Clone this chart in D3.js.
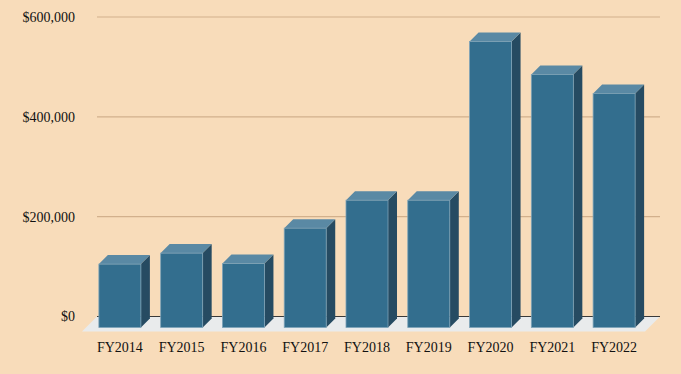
<!DOCTYPE html>
<html>
<head>
<meta charset="UTF-8">
<title>Funding by year</title>
<script src="https://cdn.jsdelivr.net/npm/d3@7"></script>
<style>
  body { margin: 0; background: #f8dcba; }
  svg { display: block; }
  text { font-family: "Liberation Serif", "Times New Roman", serif; fill: #111; }
</style>
</head>
<body>
<div id="chart"></div>
<script>
var years = ["FY2014", "FY2015", "FY2016", "FY2017", "FY2018", "FY2019", "FY2020", "FY2021", "FY2022"];
var amounts = [127000, 149000, 128000, 199000, 255000, 255000, 573000, 507000, 469000];
var yTicks = [0, 200000, 400000, 600000];

var width = 681, height = 374;
var depth = 9;      // bar depth offset (x right, y up)
var frontOff = 11;  // front face sits below the back wall

var svg = d3.select("#chart").append("svg")
    .attr("width", width)
    .attr("height", height);

svg.append("rect")
    .attr("width", width).attr("height", height)
    .attr("fill", "#f8dcba");

var x = d3.scaleBand()
    .domain(years)
    .range([89, 645])
    .paddingInner(0.32)
    .paddingOuter(0.16);

var y = d3.scaleLinear()
    .domain([0, 600000])
    .range([316.5, 17]);

// gridlines on back wall
svg.append("g")
    .selectAll("line")
    .data(yTicks.filter(function(d) { return d > 0; }))
    .enter().append("line")
    .attr("x1", 97).attr("x2", 660)
    .attr("y1", function(d) { return y(d); })
    .attr("y2", function(d) { return y(d); })
    .attr("stroke", "#d2b08c")
    .attr("stroke-width", 1.2);

// floor
var fy0 = y(0);
svg.append("path")
    .attr("d", "M97," + fy0 + "L660," + fy0 + "L645," + (fy0 + 15) + "L82," + (fy0 + 15) + "Z")
    .attr("fill", "#e9ebec");

svg.append("line")
    .attr("x1", 97).attr("x2", 660)
    .attr("y1", fy0).attr("y2", fy0)
    .attr("stroke", "#3a3a3a")
    .attr("stroke-width", 1.2);

// y labels
svg.append("g")
    .selectAll("text")
    .data(yTicks)
    .enter().append("text")
    .attr("x", 75)
    .attr("y", function(d) { return y(d); })
    .attr("dy", "0.35em")
    .attr("text-anchor", "end")
    .style("font-size", "14px")
    .text(function(d) { return "$" + d3.format(",")(d); });

// bars
var bars = svg.append("g")
    .selectAll("g")
    .data(years.map(function(yr, i) { return { year: yr, value: amounts[i] }; }))
    .enter().append("g");

bars.each(function(d) {
    var g = d3.select(this);
    var x0 = x(d.year), w = x.bandwidth();
    var top = y(d.value) + frontOff, bot = y(0) + frontOff;
    // right side
    g.append("path")
        .attr("d", "M" + (x0 + w) + "," + top + "L" + (x0 + w + depth) + "," + (top - depth) +
            "L" + (x0 + w + depth) + "," + (bot - depth) + "L" + (x0 + w) + "," + bot + "Z")
        .attr("fill", "#264b62");
    // top
    g.append("path")
        .attr("d", "M" + x0 + "," + top + "L" + (x0 + depth) + "," + (top - depth) +
            "L" + (x0 + w + depth) + "," + (top - depth) + "L" + (x0 + w) + "," + top + "Z")
        .attr("fill", "#5a89a4");
    // front
    g.append("rect")
        .attr("x", x0).attr("y", top)
        .attr("width", w).attr("height", bot - top)
        .attr("fill", "#336e8e")
        .attr("stroke", "#7ea3b8")
        .attr("stroke-width", 0.8);
});

// x labels
svg.append("g")
    .selectAll("text")
    .data(years)
    .enter().append("text")
    .attr("x", function(d) { return x(d) + x.bandwidth() / 2; })
    .attr("y", 352)
    .attr("text-anchor", "middle")
    .style("font-size", "14px")
    .text(function(d) { return d; });
</script>
</body>
</html>
